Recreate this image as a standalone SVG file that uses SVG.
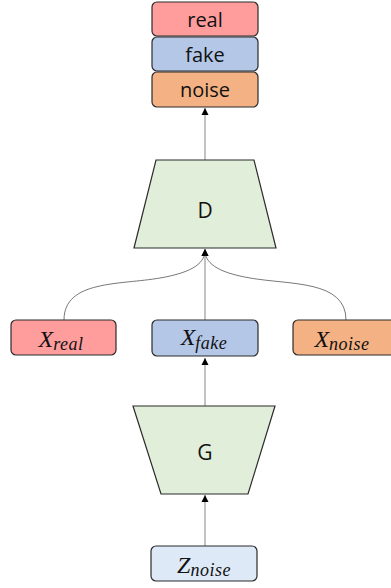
<svg xmlns="http://www.w3.org/2000/svg" width="391" height="588" viewBox="0 0 391 588">
  <defs>
    <marker id="arrow" markerWidth="8" markerHeight="8" refX="7" refY="4" orient="auto" markerUnits="userSpaceOnUse">
      <path d="M0,0.5 L7,4 L0,7.5 z" fill="#000"/>
    </marker>
    <style>
      .box { stroke: #2b2b2b; stroke-width: 1.2; }
      .trap { fill: #e1eed9; stroke: #2b2b2b; stroke-width: 1.2; }
      .lbl { font-family: "Open Sans", "Noto Sans", sans-serif; font-size: 20px; fill: #111; text-anchor: middle; }
      .big { font-size: 21px; }
      .math { font-family: "Liberation Serif", "DejaVu Serif", serif; font-style: italic; fill: #111; text-anchor: middle; }
      .math .base { font-size: 24px; }
      .math .sub { font-size: 18px; letter-spacing: 0.5px; }
      .edge { fill: none; stroke: #9a9a9a; stroke-width: 1.2; marker-end: url(#arrow); }
      .curve { fill: none; stroke: #555; stroke-width: 0.8; }
    </style>
  </defs>
  <rect width="391" height="588" fill="#fff"/>

  <!-- connectors -->
  <g id="connectors">
    <path class="edge" d="M205,160 L205,108"/>
    <path class="edge" d="M205,320 L205,249"/>
    <path class="curve" d="M64,320 C64,280 120,285 160,278 C195,272 205,262 205,250"/>
    <path class="curve" d="M346,320 C346,280 290,285 250,278 C215,272 205,262 205,250"/>
    <path fill="#000" d="M205,249 L201.5,256 L208.5,256 z"/>
    <path class="edge" d="M205,406 L205,358"/>
    <path class="edge" d="M205,546 L205,495"/>
  </g>

  <!-- output labels -->
  <g id="out-real">
    <rect class="box" x="152" y="2" width="106" height="34" rx="5" fill="#ff9d9d"/>
    <text class="lbl" x="205" y="27">real</text>
  </g>
  <g id="out-fake">
    <rect class="box" x="152" y="37" width="106" height="34" rx="5" fill="#b4c7e7"/>
    <text class="lbl" x="205" y="62">fake</text>
  </g>
  <g id="out-noise">
    <rect class="box" x="152" y="72" width="106" height="35" rx="5" fill="#f4b183"/>
    <text class="lbl" x="205" y="97">noise</text>
  </g>

  <!-- discriminator -->
  <g id="D">
    <polygon class="trap" points="156,160 254,160 276,248 134,248"/>
    <text class="lbl big" x="205" y="218">D</text>
  </g>

  <!-- inputs to D -->
  <g id="x-real">
    <rect class="box" x="11" y="320" width="105" height="35" rx="5" fill="#ff9d9d"/>
    <text class="math" x="61" y="347"><tspan class="base">X</tspan><tspan class="sub" dy="3">real</tspan></text>
  </g>
  <g id="x-fake">
    <rect class="box" x="152" y="320" width="106" height="36" rx="5" fill="#b4c7e7"/>
    <text class="math" x="204" y="345"><tspan class="base">X</tspan><tspan class="sub" dy="4">fake</tspan></text>
  </g>
  <g id="x-noise">
    <rect class="box" x="293" y="320" width="104" height="35" rx="5" fill="#f4b183"/>
    <text class="math" x="342" y="347"><tspan class="base">X</tspan><tspan class="sub" dy="3">noise</tspan></text>
  </g>

  <!-- generator -->
  <g id="G">
    <polygon class="trap" points="133,406 275,406 248,494 161,494"/>
    <text class="lbl big" x="205" y="460">G</text>
  </g>

  <!-- latent noise -->
  <g id="z-noise">
    <rect class="box" x="151" y="546" width="106" height="35" rx="5" fill="#dde9f7"/>
    <text class="math" x="204" y="573"><tspan class="base">Z</tspan><tspan class="sub" dy="3">noise</tspan></text>
  </g>
</svg>
